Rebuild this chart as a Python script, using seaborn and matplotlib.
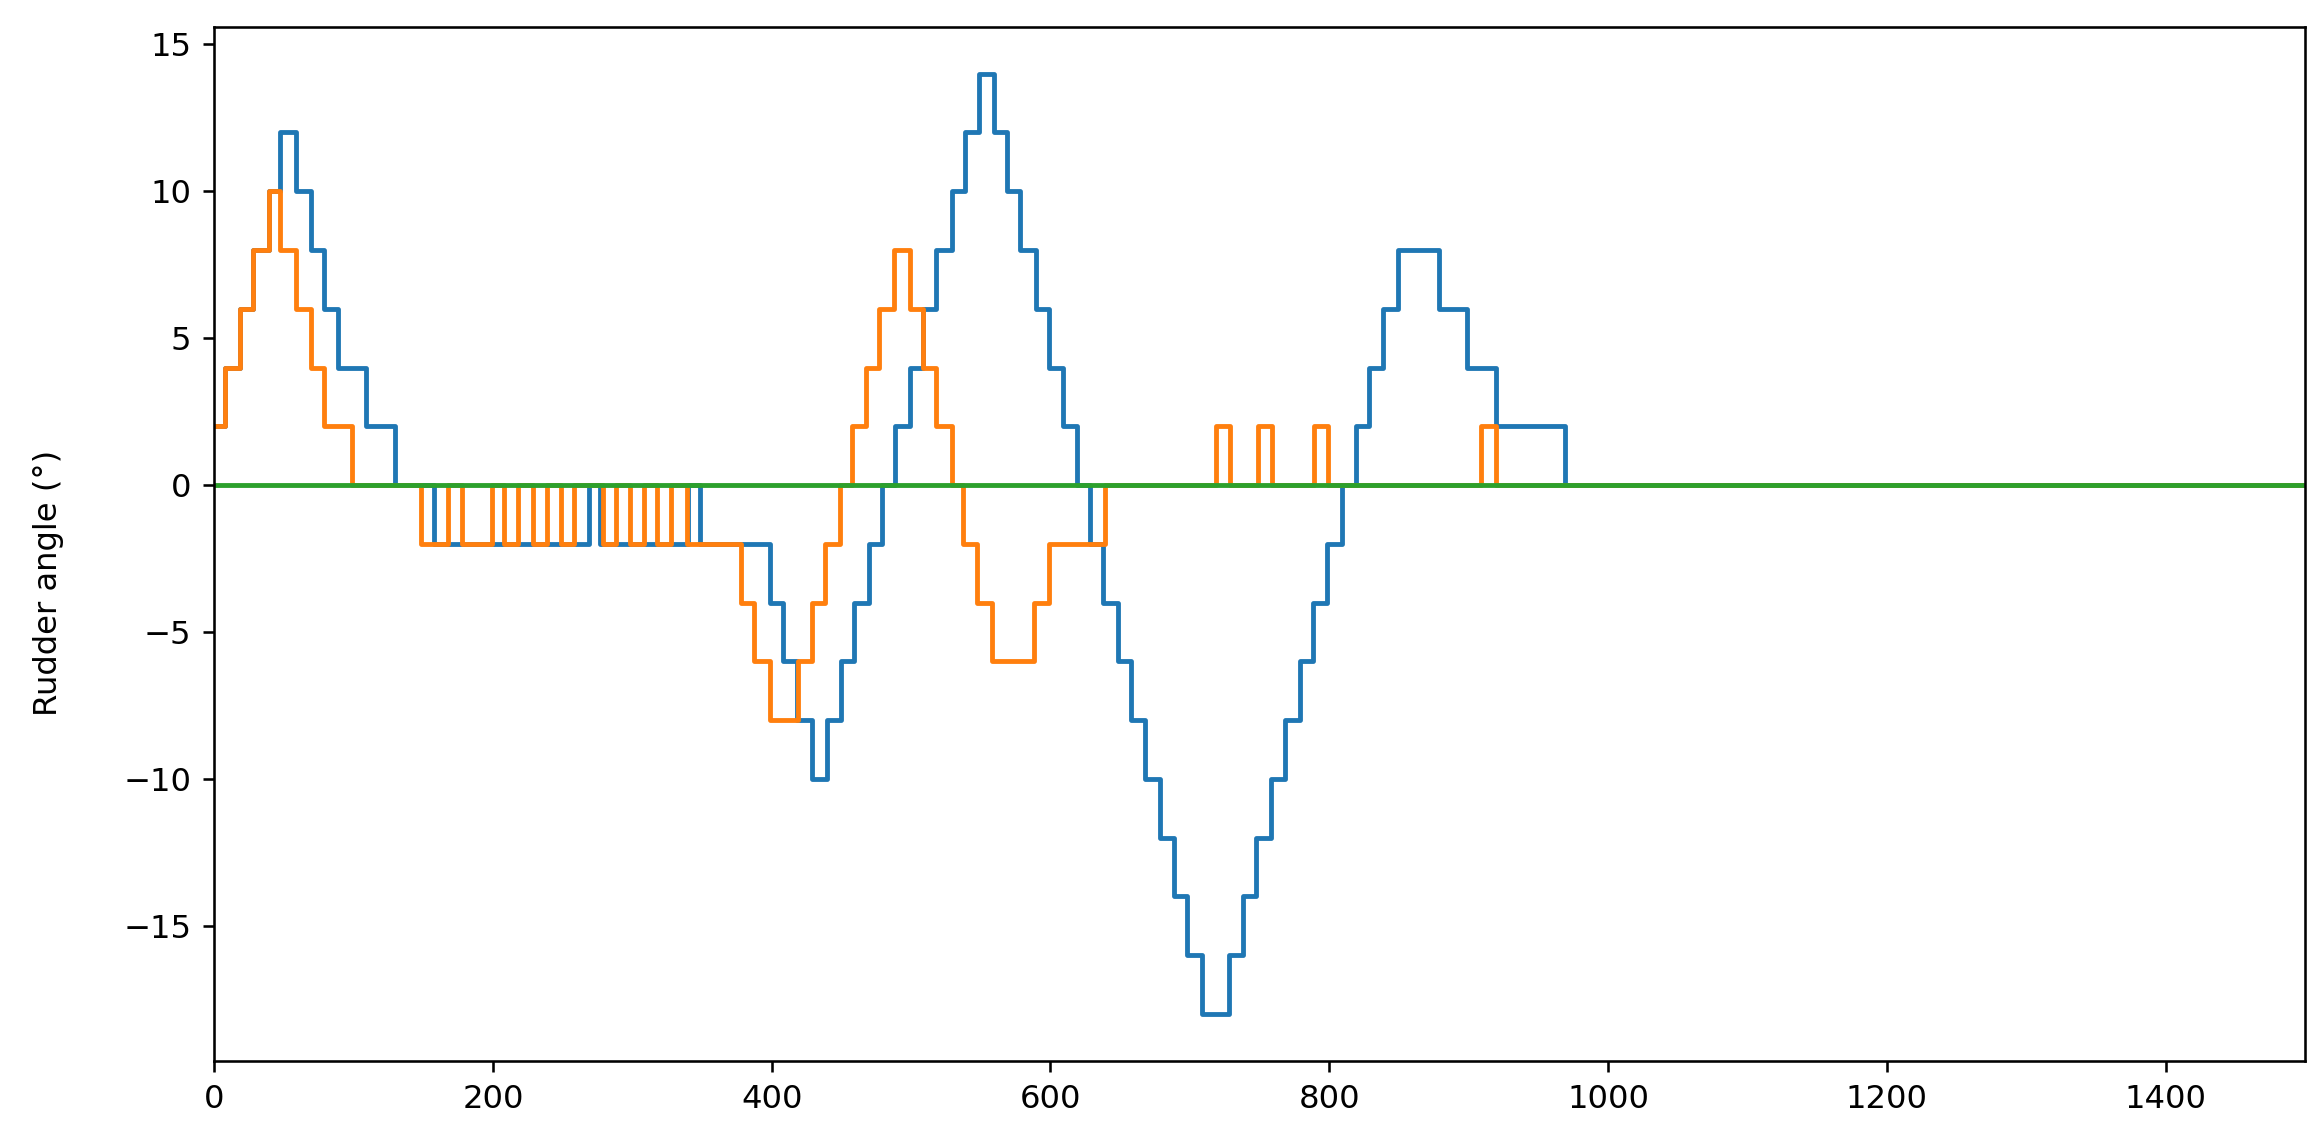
import matplotlib
matplotlib.use("Agg")
import matplotlib.pyplot as plt
import seaborn as sns

# change points of the rudder commands (time, angle), held until the next point
blue_t = [0, 8, 18.5, 28, 39, 47.5, 58.5, 69.5, 79, 88.5, 109, 129.5, 157.5,
          269, 277, 340, 348.5, 398.5, 408, 418, 429, 440, 449.5, 459, 470,
          479, 488.5, 499, 508.5, 518, 529, 539, 548.5, 559.5, 569, 578.5,
          589.5, 599, 609, 619, 628.5, 638, 648.5, 658, 668, 678.5, 688.5,
          698, 709, 728, 738, 747.5, 758.5, 768, 779, 788.5, 798.5, 809.5,
          819, 828.5, 838.5, 849.5, 878.5, 899, 919.5, 969, 1500]
blue_a = [2, 4, 6, 8, 10, 12, 10, 8, 6, 4, 2, 0, -2,
          0, -2, 0, -2, -4, -6, -8, -10, -8, -6, -4, -2,
          0, 2, 4, 6, 8, 10, 12, 14, 12, 10, 8,
          6, 4, 2, 0, -2, -4, -6, -8, -10, -12, -14,
          -16, -18, -16, -14, -12, -10, -8, -6, -4, -2, 0,
          2, 4, 6, 8, 6, 4, 2, 0, 0]

orange_t = [0, 8, 18.5, 28, 39, 47.5, 58.5, 69.5, 79, 99, 148.5, 168, 178,
            199.5, 208, 218, 228.5, 238.5, 248.5, 258, 279, 288.5, 298.5,
            308.5, 318, 328, 339, 378, 387.5, 398.5, 419, 429, 438.5, 449,
            457.5, 468, 477, 488, 499, 508.5, 518, 529, 537.5, 547.5, 558,
            588, 599, 639, 719, 729, 749, 759, 789, 799, 909, 919.5, 1500]
orange_a = [2, 4, 6, 8, 10, 8, 6, 4, 2, 0, -2, 0, -2,
            0, -2, 0, -2, 0, -2, 0, -2, 0, -2,
            0, -2, 0, -2, -4, -6, -8, -6, -4, -2, 0,
            2, 4, 6, 8, 6, 4, 2, 0, -2, -4, -6,
            -4, -2, 0, 2, 0, 2, 0, 2, 0, 2, 0, 0]

green_t = [0, 1500]
green_a = [0, 0]

DPI = 232.3
fig, ax = plt.subplots(figsize=(2323 / DPI, 1145 / DPI), dpi=DPI)
fig.subplots_adjust(left=0.0922, right=0.9922, top=0.9767, bottom=0.0734)

sns.lineplot(x=blue_t, y=blue_a, drawstyle="steps-post", color="#1f77b4", lw=1.5, ax=ax)
sns.lineplot(x=orange_t, y=orange_a, drawstyle="steps-post", color="#ff7f0e", lw=1.5, ax=ax)
sns.lineplot(x=green_t, y=green_a, color="#2ca02c", lw=1.5, ax=ax)

ax.set_xlim(0, 1500)
ax.set_ylim(-19.6, 15.6)
ax.set_yticks([-15, -10, -5, 0, 5, 10, 15])
ax.set_ylabel("Rudder angle (°)")
ax.yaxis.set_label_coords(-0.072, 0.462)

fig.savefig("out.png", dpi=DPI)
